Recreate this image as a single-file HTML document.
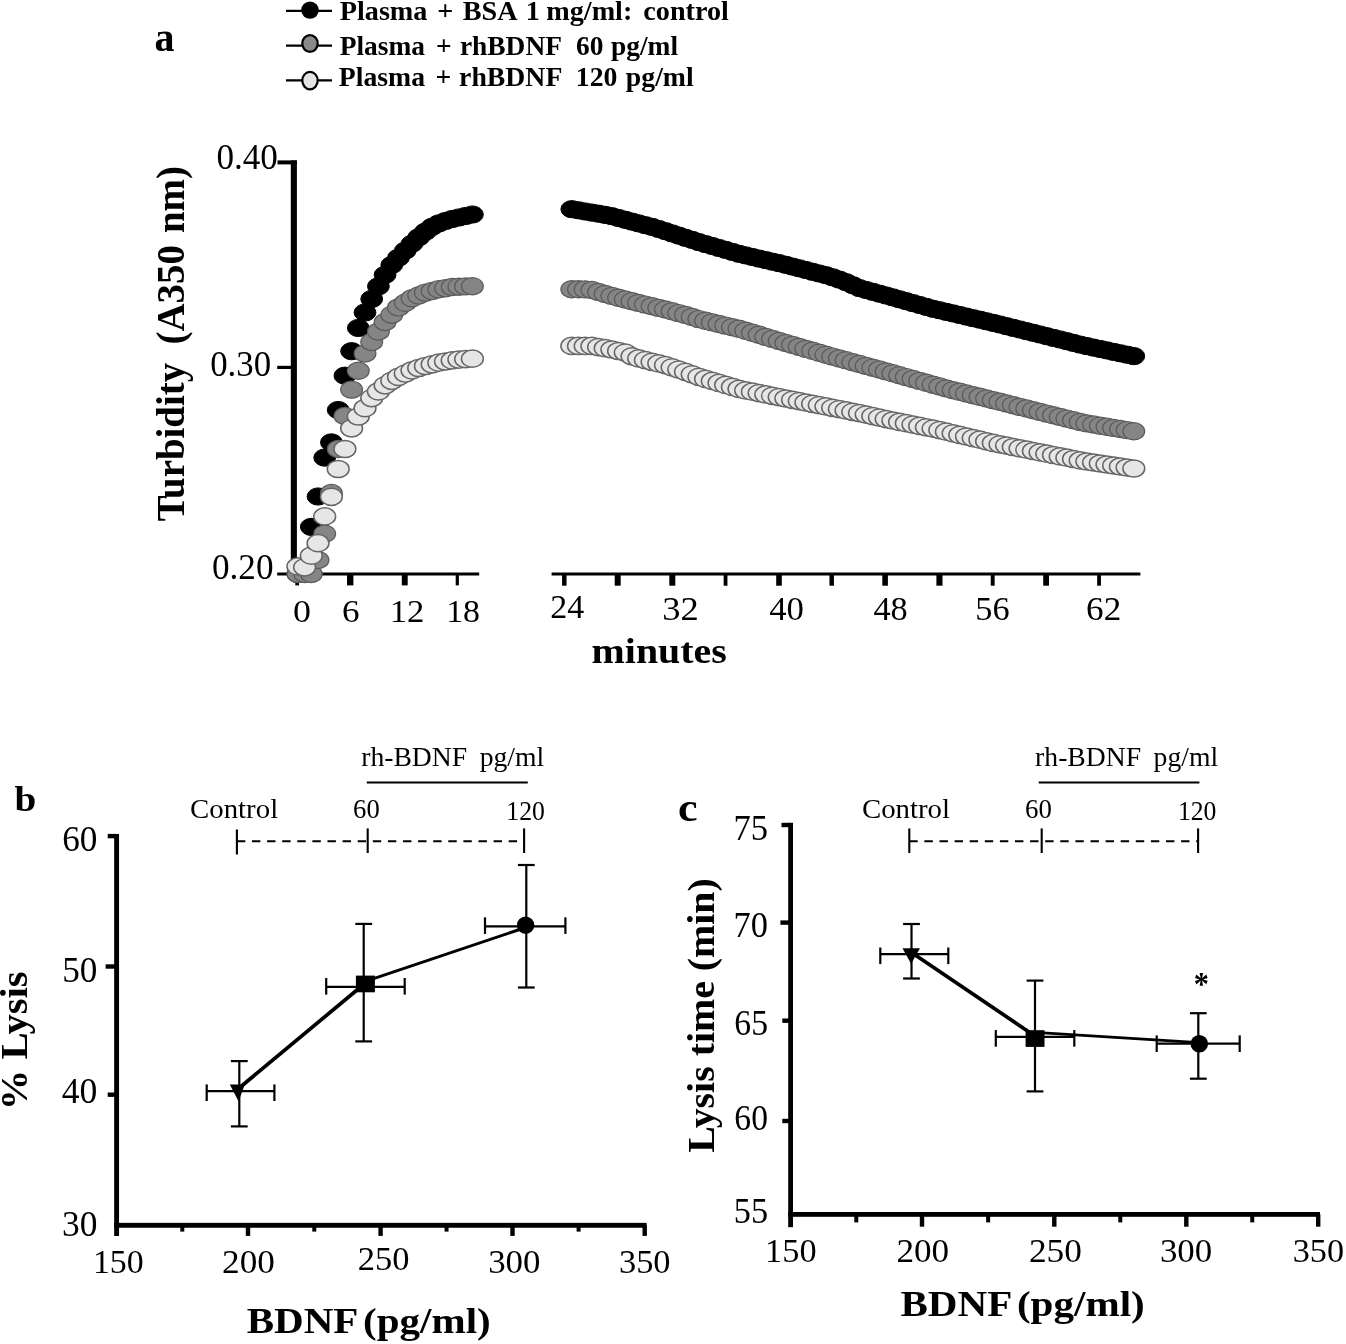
<!DOCTYPE html>
<html><head><meta charset="utf-8"><title>Figure</title>
<style>
html,body{margin:0;padding:0;background:#fff;}
svg{display:block;will-change:transform;filter:grayscale(1);font-family:'Liberation Serif',serif;}
svg text{fill:#000;}
</style></head><body>
<svg width="1346" height="1344" viewBox="0 0 1346 1344" font-family="'Liberation Serif', serif">
<rect width="1346" height="1344" fill="#fff"/>
<line x1="286.00" y1="10.95" x2="332.00" y2="10.95" stroke="#000" stroke-width="2.2" />
<ellipse cx="310" cy="10.1" rx="8.8" ry="8.6" fill="#000" stroke="#000" stroke-width="0"/>
<line x1="286.00" y1="45.60" x2="332.00" y2="45.60" stroke="#000" stroke-width="2.2" />
<ellipse cx="310" cy="43.5" rx="7.7" ry="8.4" fill="#8a8a8a" stroke="#000" stroke-width="2.2"/>
<line x1="286.00" y1="80.40" x2="332.00" y2="80.40" stroke="#000" stroke-width="2.2" />
<ellipse cx="310" cy="80.6" rx="7.7" ry="8.8" fill="#e4e4e4" stroke="#000" stroke-width="2.2"/>
<text transform="translate(0 19.80) scale(1.0673 1)" font-size="26.41" font-weight="bold" xml:space="preserve"><tspan x="318.35">Plasma </tspan><tspan x="409.69">+ </tspan><tspan x="433.52">BSA </tspan><tspan x="492.71">1 </tspan><tspan x="511.83">mg/ml: </tspan><tspan x="602.77">control</tspan></text>
<text transform="translate(0 55.40) scale(0.9930 1)" font-size="27.63" font-weight="bold" xml:space="preserve"><tspan x="342.11">Plasma </tspan><tspan x="439.07">+ </tspan><tspan x="463.12">rhBDNF </tspan><tspan x="580.05">60 </tspan><tspan x="615.36">pg/ml</tspan></text>
<text transform="translate(0 85.60) scale(0.9878 1)" font-size="28.09" font-weight="bold" xml:space="preserve"><tspan x="342.99">Plasma </tspan><tspan x="440.81">+ </tspan><tspan x="464.78">rhBDNF </tspan><tspan x="582.94">120 </tspan><tspan x="633.61">pg/ml</tspan></text>
<text transform="translate(154.40 50.88) scale(0.9600 1)" font-size="41.67" font-weight="bold">a</text>
<rect x="290.80" y="160.40" width="6.10" height="415.20" fill="#000"/>
<rect x="277.50" y="160.40" width="19.40" height="4.00" fill="#000"/>
<rect x="277.20" y="365.80" width="14.80" height="3.20" fill="#000"/>
<rect x="277.20" y="572.50" width="202.00" height="3.00" fill="#000"/>
<rect x="295.30" y="574.00" width="3.70" height="11.40" fill="#000"/>
<rect x="347.00" y="574.00" width="6.40" height="11.40" fill="#000"/>
<rect x="401.80" y="574.00" width="5.90" height="11.40" fill="#000"/>
<rect x="455.70" y="574.00" width="3.20" height="11.40" fill="#000"/>
<rect x="551.60" y="572.50" width="588.80" height="3.00" fill="#000"/>
<rect x="562.05" y="574.00" width="4.50" height="11.70" fill="#000"/>
<rect x="614.70" y="574.00" width="6.00" height="11.70" fill="#000"/>
<rect x="669.30" y="574.00" width="6.00" height="11.70" fill="#000"/>
<rect x="723.65" y="574.00" width="3.80" height="11.70" fill="#000"/>
<rect x="776.20" y="574.00" width="5.60" height="11.70" fill="#000"/>
<rect x="829.45" y="574.00" width="4.50" height="11.70" fill="#000"/>
<rect x="882.30" y="574.00" width="5.60" height="11.70" fill="#000"/>
<rect x="936.40" y="574.00" width="6.10" height="11.70" fill="#000"/>
<rect x="990.75" y="574.00" width="3.90" height="11.70" fill="#000"/>
<rect x="1043.20" y="574.00" width="5.80" height="11.70" fill="#000"/>
<rect x="1097.15" y="574.00" width="3.80" height="11.70" fill="#000"/>
<text transform="translate(216.38 168.50) scale(0.9687 1)" font-size="36.24" xml:space="preserve">0.40</text>
<text transform="translate(210.19 375.50) scale(0.9644 1)" font-size="36.09" xml:space="preserve">0.30</text>
<text transform="translate(211.98 579.40) scale(0.9784 1)" font-size="35.94" xml:space="preserve">0.20</text>
<text transform="translate(292.95 621.60) scale(1.1239 1)" font-size="32.03" xml:space="preserve">0</text>
<text transform="translate(342.11 621.60) scale(1.0913 1)" font-size="32.15" xml:space="preserve">6</text>
<text transform="translate(389.77 621.60) scale(1.0773 1)" font-size="32.15" xml:space="preserve">12</text>
<text transform="translate(446.13 621.60) scale(1.0597 1)" font-size="32.03" xml:space="preserve">18</text>
<text transform="translate(550.37 618.10) scale(1.0173 1)" font-size="33.36" xml:space="preserve">24</text>
<text transform="translate(662.26 619.90) scale(1.0527 1)" font-size="34.72" xml:space="preserve">32</text>
<text transform="translate(769.20 619.90) scale(1.0150 1)" font-size="34.29" xml:space="preserve">40</text>
<text transform="translate(873.41 619.90) scale(1.0027 1)" font-size="34.29" xml:space="preserve">48</text>
<text transform="translate(975.33 619.90) scale(0.9967 1)" font-size="34.42" xml:space="preserve">56</text>
<text transform="translate(1086.11 619.90) scale(1.0206 1)" font-size="34.42" xml:space="preserve">62</text>
<text transform="translate(591.60 663.30) scale(1.0897 1)" font-size="36.60" font-weight="bold" xml:space="preserve">minutes</text>
<text transform="translate(183.90 0) rotate(-90) scale(0.9917 1)" font-size="39.24" font-weight="bold" xml:space="preserve"><tspan x="-525.73">Turbidity </tspan><tspan x="-347.43">(A350 </tspan><tspan x="-235.02">nm)</tspan></text>
<g fill="#000" stroke="#000" stroke-width="1">
<ellipse cx="297.9" cy="574.0" rx="10.9" ry="8.6"/>
<ellipse cx="304.6" cy="572.0" rx="10.9" ry="8.6"/>
<ellipse cx="311.3" cy="526.9" rx="10.9" ry="8.6"/>
<ellipse cx="318.0" cy="496.5" rx="10.9" ry="8.6"/>
<ellipse cx="324.7" cy="457.6" rx="10.9" ry="8.6"/>
<ellipse cx="331.4" cy="442.4" rx="10.9" ry="8.6"/>
<ellipse cx="338.2" cy="410.0" rx="10.9" ry="8.6"/>
<ellipse cx="344.9" cy="375.7" rx="10.9" ry="8.6"/>
<ellipse cx="351.6" cy="351.2" rx="10.9" ry="8.6"/>
<ellipse cx="358.3" cy="328.0" rx="10.9" ry="8.6"/>
<ellipse cx="365.0" cy="312.5" rx="10.9" ry="8.6"/>
<ellipse cx="371.7" cy="299.0" rx="10.9" ry="8.6"/>
<ellipse cx="378.4" cy="286.3" rx="10.9" ry="8.6"/>
<ellipse cx="385.1" cy="274.8" rx="10.9" ry="8.6"/>
<ellipse cx="391.8" cy="265.0" rx="10.9" ry="8.6"/>
<ellipse cx="398.5" cy="257.7" rx="10.9" ry="8.6"/>
<ellipse cx="405.3" cy="250.6" rx="10.9" ry="8.6"/>
<ellipse cx="412.0" cy="243.7" rx="10.9" ry="8.6"/>
<ellipse cx="418.7" cy="237.3" rx="10.9" ry="8.6"/>
<ellipse cx="425.4" cy="231.7" rx="10.9" ry="8.6"/>
<ellipse cx="432.1" cy="226.8" rx="10.9" ry="8.6"/>
<ellipse cx="438.8" cy="223.4" rx="10.9" ry="8.6"/>
<ellipse cx="445.5" cy="221.0" rx="10.9" ry="8.6"/>
<ellipse cx="452.2" cy="219.0" rx="10.9" ry="8.6"/>
<ellipse cx="458.9" cy="217.5" rx="10.9" ry="8.6"/>
<ellipse cx="465.6" cy="216.0" rx="10.9" ry="8.6"/>
<ellipse cx="472.4" cy="214.5" rx="10.9" ry="8.6"/>
</g>
<g fill="#000" stroke="#000" stroke-width="1">
<ellipse cx="571.8" cy="209.2" rx="10.9" ry="8.6"/>
<ellipse cx="578.5" cy="210.3" rx="10.9" ry="8.6"/>
<ellipse cx="585.2" cy="211.5" rx="10.9" ry="8.6"/>
<ellipse cx="591.9" cy="212.6" rx="10.9" ry="8.6"/>
<ellipse cx="598.6" cy="213.7" rx="10.9" ry="8.6"/>
<ellipse cx="605.2" cy="214.9" rx="10.9" ry="8.6"/>
<ellipse cx="611.9" cy="216.2" rx="10.9" ry="8.6"/>
<ellipse cx="618.6" cy="218.0" rx="10.9" ry="8.6"/>
<ellipse cx="625.3" cy="219.8" rx="10.9" ry="8.6"/>
<ellipse cx="632.0" cy="221.6" rx="10.9" ry="8.6"/>
<ellipse cx="638.7" cy="223.4" rx="10.9" ry="8.6"/>
<ellipse cx="645.4" cy="225.2" rx="10.9" ry="8.6"/>
<ellipse cx="652.1" cy="226.9" rx="10.9" ry="8.6"/>
<ellipse cx="658.8" cy="229.0" rx="10.9" ry="8.6"/>
<ellipse cx="665.5" cy="231.2" rx="10.9" ry="8.6"/>
<ellipse cx="672.1" cy="233.4" rx="10.9" ry="8.6"/>
<ellipse cx="678.8" cy="235.6" rx="10.9" ry="8.6"/>
<ellipse cx="685.5" cy="237.8" rx="10.9" ry="8.6"/>
<ellipse cx="692.2" cy="239.9" rx="10.9" ry="8.6"/>
<ellipse cx="698.9" cy="242.1" rx="10.9" ry="8.6"/>
<ellipse cx="705.6" cy="244.1" rx="10.9" ry="8.6"/>
<ellipse cx="712.3" cy="246.0" rx="10.9" ry="8.6"/>
<ellipse cx="719.0" cy="248.0" rx="10.9" ry="8.6"/>
<ellipse cx="725.7" cy="249.9" rx="10.9" ry="8.6"/>
<ellipse cx="732.4" cy="251.9" rx="10.9" ry="8.6"/>
<ellipse cx="739.0" cy="253.8" rx="10.9" ry="8.6"/>
<ellipse cx="745.7" cy="255.4" rx="10.9" ry="8.6"/>
<ellipse cx="752.4" cy="257.0" rx="10.9" ry="8.6"/>
<ellipse cx="759.1" cy="258.6" rx="10.9" ry="8.6"/>
<ellipse cx="765.8" cy="260.1" rx="10.9" ry="8.6"/>
<ellipse cx="772.5" cy="261.7" rx="10.9" ry="8.6"/>
<ellipse cx="779.2" cy="263.2" rx="10.9" ry="8.6"/>
<ellipse cx="785.9" cy="264.8" rx="10.9" ry="8.6"/>
<ellipse cx="792.6" cy="266.6" rx="10.9" ry="8.6"/>
<ellipse cx="799.3" cy="268.3" rx="10.9" ry="8.6"/>
<ellipse cx="805.9" cy="270.0" rx="10.9" ry="8.6"/>
<ellipse cx="812.6" cy="271.8" rx="10.9" ry="8.6"/>
<ellipse cx="819.3" cy="273.5" rx="10.9" ry="8.6"/>
<ellipse cx="826.0" cy="275.2" rx="10.9" ry="8.6"/>
<ellipse cx="832.7" cy="277.3" rx="10.9" ry="8.6"/>
<ellipse cx="839.4" cy="279.6" rx="10.9" ry="8.6"/>
<ellipse cx="846.1" cy="282.2" rx="10.9" ry="8.6"/>
<ellipse cx="852.8" cy="285.2" rx="10.9" ry="8.6"/>
<ellipse cx="859.5" cy="288.1" rx="10.9" ry="8.6"/>
<ellipse cx="866.2" cy="290.0" rx="10.9" ry="8.6"/>
<ellipse cx="872.8" cy="291.8" rx="10.9" ry="8.6"/>
<ellipse cx="879.5" cy="293.7" rx="10.9" ry="8.6"/>
<ellipse cx="886.2" cy="295.5" rx="10.9" ry="8.6"/>
<ellipse cx="892.9" cy="297.4" rx="10.9" ry="8.6"/>
<ellipse cx="899.6" cy="299.3" rx="10.9" ry="8.6"/>
<ellipse cx="906.3" cy="301.2" rx="10.9" ry="8.6"/>
<ellipse cx="913.0" cy="303.1" rx="10.9" ry="8.6"/>
<ellipse cx="919.7" cy="305.0" rx="10.9" ry="8.6"/>
<ellipse cx="926.4" cy="306.9" rx="10.9" ry="8.6"/>
<ellipse cx="933.1" cy="308.8" rx="10.9" ry="8.6"/>
<ellipse cx="939.8" cy="310.3" rx="10.9" ry="8.6"/>
<ellipse cx="946.4" cy="311.9" rx="10.9" ry="8.6"/>
<ellipse cx="953.1" cy="313.4" rx="10.9" ry="8.6"/>
<ellipse cx="959.8" cy="315.0" rx="10.9" ry="8.6"/>
<ellipse cx="966.5" cy="316.6" rx="10.9" ry="8.6"/>
<ellipse cx="973.2" cy="318.2" rx="10.9" ry="8.6"/>
<ellipse cx="979.9" cy="319.7" rx="10.9" ry="8.6"/>
<ellipse cx="986.6" cy="321.3" rx="10.9" ry="8.6"/>
<ellipse cx="993.3" cy="322.9" rx="10.9" ry="8.6"/>
<ellipse cx="1000.0" cy="324.5" rx="10.9" ry="8.6"/>
<ellipse cx="1006.6" cy="326.2" rx="10.9" ry="8.6"/>
<ellipse cx="1013.3" cy="327.9" rx="10.9" ry="8.6"/>
<ellipse cx="1020.0" cy="329.5" rx="10.9" ry="8.6"/>
<ellipse cx="1026.7" cy="331.2" rx="10.9" ry="8.6"/>
<ellipse cx="1033.4" cy="332.8" rx="10.9" ry="8.6"/>
<ellipse cx="1040.1" cy="334.5" rx="10.9" ry="8.6"/>
<ellipse cx="1046.8" cy="336.2" rx="10.9" ry="8.6"/>
<ellipse cx="1053.5" cy="337.9" rx="10.9" ry="8.6"/>
<ellipse cx="1060.2" cy="339.5" rx="10.9" ry="8.6"/>
<ellipse cx="1066.9" cy="341.2" rx="10.9" ry="8.6"/>
<ellipse cx="1073.5" cy="342.9" rx="10.9" ry="8.6"/>
<ellipse cx="1080.2" cy="344.6" rx="10.9" ry="8.6"/>
<ellipse cx="1086.9" cy="346.1" rx="10.9" ry="8.6"/>
<ellipse cx="1093.6" cy="347.6" rx="10.9" ry="8.6"/>
<ellipse cx="1100.3" cy="349.0" rx="10.9" ry="8.6"/>
<ellipse cx="1107.0" cy="350.4" rx="10.9" ry="8.6"/>
<ellipse cx="1113.7" cy="351.9" rx="10.9" ry="8.6"/>
<ellipse cx="1120.4" cy="353.3" rx="10.9" ry="8.6"/>
<ellipse cx="1127.1" cy="354.7" rx="10.9" ry="8.6"/>
<ellipse cx="1133.8" cy="356.1" rx="10.9" ry="8.6"/>
</g>
<g fill="#858585" stroke="#5a5a5a" stroke-width="1.2">
<ellipse cx="297.9" cy="574.0" rx="10.9" ry="8.6"/>
<ellipse cx="304.6" cy="574.0" rx="10.9" ry="8.6"/>
<ellipse cx="311.3" cy="574.0" rx="10.9" ry="8.6"/>
<ellipse cx="318.0" cy="560.0" rx="10.9" ry="8.6"/>
<ellipse cx="324.7" cy="533.7" rx="10.9" ry="8.6"/>
<ellipse cx="331.4" cy="493.0" rx="10.9" ry="8.6"/>
<ellipse cx="338.2" cy="449.0" rx="10.9" ry="8.6"/>
<ellipse cx="344.9" cy="416.0" rx="10.9" ry="8.6"/>
<ellipse cx="351.6" cy="389.6" rx="10.9" ry="8.6"/>
<ellipse cx="358.3" cy="370.8" rx="10.9" ry="8.6"/>
<ellipse cx="365.0" cy="353.5" rx="10.9" ry="8.6"/>
<ellipse cx="371.7" cy="342.0" rx="10.9" ry="8.6"/>
<ellipse cx="378.4" cy="331.5" rx="10.9" ry="8.6"/>
<ellipse cx="385.1" cy="322.0" rx="10.9" ry="8.6"/>
<ellipse cx="391.8" cy="314.7" rx="10.9" ry="8.6"/>
<ellipse cx="398.5" cy="307.4" rx="10.9" ry="8.6"/>
<ellipse cx="405.3" cy="302.8" rx="10.9" ry="8.6"/>
<ellipse cx="412.0" cy="298.3" rx="10.9" ry="8.6"/>
<ellipse cx="418.7" cy="295.5" rx="10.9" ry="8.6"/>
<ellipse cx="425.4" cy="292.6" rx="10.9" ry="8.6"/>
<ellipse cx="432.1" cy="291.0" rx="10.9" ry="8.6"/>
<ellipse cx="438.8" cy="289.3" rx="10.9" ry="8.6"/>
<ellipse cx="445.5" cy="288.2" rx="10.9" ry="8.6"/>
<ellipse cx="452.2" cy="287.0" rx="10.9" ry="8.6"/>
<ellipse cx="458.9" cy="286.7" rx="10.9" ry="8.6"/>
<ellipse cx="465.6" cy="286.4" rx="10.9" ry="8.6"/>
<ellipse cx="472.4" cy="286.2" rx="10.9" ry="8.6"/>
</g>
<g fill="#858585" stroke="#5a5a5a" stroke-width="1.2">
<ellipse cx="571.8" cy="289.2" rx="10.9" ry="8.6"/>
<ellipse cx="578.5" cy="289.3" rx="10.9" ry="8.6"/>
<ellipse cx="585.2" cy="289.4" rx="10.9" ry="8.6"/>
<ellipse cx="591.9" cy="290.0" rx="10.9" ry="8.6"/>
<ellipse cx="598.6" cy="292.0" rx="10.9" ry="8.6"/>
<ellipse cx="605.2" cy="294.0" rx="10.9" ry="8.6"/>
<ellipse cx="611.9" cy="295.9" rx="10.9" ry="8.6"/>
<ellipse cx="618.6" cy="297.8" rx="10.9" ry="8.6"/>
<ellipse cx="625.3" cy="299.5" rx="10.9" ry="8.6"/>
<ellipse cx="632.0" cy="301.2" rx="10.9" ry="8.6"/>
<ellipse cx="638.7" cy="302.9" rx="10.9" ry="8.6"/>
<ellipse cx="645.4" cy="304.6" rx="10.9" ry="8.6"/>
<ellipse cx="652.1" cy="306.2" rx="10.9" ry="8.6"/>
<ellipse cx="658.8" cy="307.9" rx="10.9" ry="8.6"/>
<ellipse cx="665.5" cy="309.5" rx="10.9" ry="8.6"/>
<ellipse cx="672.1" cy="311.3" rx="10.9" ry="8.6"/>
<ellipse cx="678.8" cy="313.1" rx="10.9" ry="8.6"/>
<ellipse cx="685.5" cy="314.9" rx="10.9" ry="8.6"/>
<ellipse cx="692.2" cy="316.9" rx="10.9" ry="8.6"/>
<ellipse cx="698.9" cy="319.1" rx="10.9" ry="8.6"/>
<ellipse cx="705.6" cy="320.8" rx="10.9" ry="8.6"/>
<ellipse cx="712.3" cy="322.4" rx="10.9" ry="8.6"/>
<ellipse cx="719.0" cy="324.0" rx="10.9" ry="8.6"/>
<ellipse cx="725.7" cy="325.6" rx="10.9" ry="8.6"/>
<ellipse cx="732.4" cy="327.2" rx="10.9" ry="8.6"/>
<ellipse cx="739.0" cy="328.8" rx="10.9" ry="8.6"/>
<ellipse cx="745.7" cy="330.8" rx="10.9" ry="8.6"/>
<ellipse cx="752.4" cy="332.8" rx="10.9" ry="8.6"/>
<ellipse cx="759.1" cy="334.8" rx="10.9" ry="8.6"/>
<ellipse cx="765.8" cy="336.9" rx="10.9" ry="8.6"/>
<ellipse cx="772.5" cy="338.9" rx="10.9" ry="8.6"/>
<ellipse cx="779.2" cy="341.0" rx="10.9" ry="8.6"/>
<ellipse cx="785.9" cy="343.0" rx="10.9" ry="8.6"/>
<ellipse cx="792.6" cy="344.9" rx="10.9" ry="8.6"/>
<ellipse cx="799.3" cy="346.9" rx="10.9" ry="8.6"/>
<ellipse cx="805.9" cy="348.9" rx="10.9" ry="8.6"/>
<ellipse cx="812.6" cy="350.8" rx="10.9" ry="8.6"/>
<ellipse cx="819.3" cy="352.8" rx="10.9" ry="8.6"/>
<ellipse cx="826.0" cy="354.7" rx="10.9" ry="8.6"/>
<ellipse cx="832.7" cy="356.6" rx="10.9" ry="8.6"/>
<ellipse cx="839.4" cy="358.5" rx="10.9" ry="8.6"/>
<ellipse cx="846.1" cy="360.3" rx="10.9" ry="8.6"/>
<ellipse cx="852.8" cy="362.2" rx="10.9" ry="8.6"/>
<ellipse cx="859.5" cy="364.0" rx="10.9" ry="8.6"/>
<ellipse cx="866.2" cy="365.9" rx="10.9" ry="8.6"/>
<ellipse cx="872.8" cy="367.7" rx="10.9" ry="8.6"/>
<ellipse cx="879.5" cy="369.5" rx="10.9" ry="8.6"/>
<ellipse cx="886.2" cy="371.4" rx="10.9" ry="8.6"/>
<ellipse cx="892.9" cy="373.3" rx="10.9" ry="8.6"/>
<ellipse cx="899.6" cy="375.2" rx="10.9" ry="8.6"/>
<ellipse cx="906.3" cy="377.1" rx="10.9" ry="8.6"/>
<ellipse cx="913.0" cy="379.0" rx="10.9" ry="8.6"/>
<ellipse cx="919.7" cy="380.9" rx="10.9" ry="8.6"/>
<ellipse cx="926.4" cy="382.8" rx="10.9" ry="8.6"/>
<ellipse cx="933.1" cy="384.7" rx="10.9" ry="8.6"/>
<ellipse cx="939.8" cy="386.5" rx="10.9" ry="8.6"/>
<ellipse cx="946.4" cy="388.4" rx="10.9" ry="8.6"/>
<ellipse cx="953.1" cy="390.2" rx="10.9" ry="8.6"/>
<ellipse cx="959.8" cy="391.8" rx="10.9" ry="8.6"/>
<ellipse cx="966.5" cy="393.5" rx="10.9" ry="8.6"/>
<ellipse cx="973.2" cy="395.2" rx="10.9" ry="8.6"/>
<ellipse cx="979.9" cy="396.8" rx="10.9" ry="8.6"/>
<ellipse cx="986.6" cy="398.5" rx="10.9" ry="8.6"/>
<ellipse cx="993.3" cy="400.2" rx="10.9" ry="8.6"/>
<ellipse cx="1000.0" cy="401.8" rx="10.9" ry="8.6"/>
<ellipse cx="1006.6" cy="403.5" rx="10.9" ry="8.6"/>
<ellipse cx="1013.3" cy="405.2" rx="10.9" ry="8.6"/>
<ellipse cx="1020.0" cy="406.9" rx="10.9" ry="8.6"/>
<ellipse cx="1026.7" cy="408.5" rx="10.9" ry="8.6"/>
<ellipse cx="1033.4" cy="410.2" rx="10.9" ry="8.6"/>
<ellipse cx="1040.1" cy="411.9" rx="10.9" ry="8.6"/>
<ellipse cx="1046.8" cy="413.6" rx="10.9" ry="8.6"/>
<ellipse cx="1053.5" cy="415.3" rx="10.9" ry="8.6"/>
<ellipse cx="1060.2" cy="416.9" rx="10.9" ry="8.6"/>
<ellipse cx="1066.9" cy="418.6" rx="10.9" ry="8.6"/>
<ellipse cx="1073.5" cy="420.3" rx="10.9" ry="8.6"/>
<ellipse cx="1080.2" cy="422.0" rx="10.9" ry="8.6"/>
<ellipse cx="1086.9" cy="423.4" rx="10.9" ry="8.6"/>
<ellipse cx="1093.6" cy="424.5" rx="10.9" ry="8.6"/>
<ellipse cx="1100.3" cy="425.7" rx="10.9" ry="8.6"/>
<ellipse cx="1107.0" cy="426.8" rx="10.9" ry="8.6"/>
<ellipse cx="1113.7" cy="427.9" rx="10.9" ry="8.6"/>
<ellipse cx="1120.4" cy="429.0" rx="10.9" ry="8.6"/>
<ellipse cx="1127.1" cy="430.1" rx="10.9" ry="8.6"/>
<ellipse cx="1133.8" cy="431.3" rx="10.9" ry="8.6"/>
</g>
<g fill="#e6e6e6" stroke="#666" stroke-width="1.5">
<ellipse cx="297.9" cy="566.4" rx="10.9" ry="8.6"/>
<ellipse cx="304.6" cy="567.3" rx="10.9" ry="8.6"/>
<ellipse cx="311.3" cy="555.7" rx="10.9" ry="8.6"/>
<ellipse cx="318.0" cy="543.2" rx="10.9" ry="8.6"/>
<ellipse cx="324.7" cy="516.4" rx="10.9" ry="8.6"/>
<ellipse cx="331.4" cy="496.8" rx="10.9" ry="8.6"/>
<ellipse cx="338.2" cy="469.0" rx="10.9" ry="8.6"/>
<ellipse cx="344.9" cy="449.0" rx="10.9" ry="8.6"/>
<ellipse cx="351.6" cy="428.3" rx="10.9" ry="8.6"/>
<ellipse cx="358.3" cy="416.5" rx="10.9" ry="8.6"/>
<ellipse cx="365.0" cy="408.2" rx="10.9" ry="8.6"/>
<ellipse cx="371.7" cy="398.1" rx="10.9" ry="8.6"/>
<ellipse cx="378.4" cy="391.4" rx="10.9" ry="8.6"/>
<ellipse cx="385.1" cy="385.3" rx="10.9" ry="8.6"/>
<ellipse cx="391.8" cy="380.8" rx="10.9" ry="8.6"/>
<ellipse cx="398.5" cy="376.9" rx="10.9" ry="8.6"/>
<ellipse cx="405.3" cy="373.6" rx="10.9" ry="8.6"/>
<ellipse cx="412.0" cy="370.4" rx="10.9" ry="8.6"/>
<ellipse cx="418.7" cy="368.0" rx="10.9" ry="8.6"/>
<ellipse cx="425.4" cy="366.0" rx="10.9" ry="8.6"/>
<ellipse cx="432.1" cy="364.3" rx="10.9" ry="8.6"/>
<ellipse cx="438.8" cy="362.7" rx="10.9" ry="8.6"/>
<ellipse cx="445.5" cy="361.5" rx="10.9" ry="8.6"/>
<ellipse cx="452.2" cy="360.4" rx="10.9" ry="8.6"/>
<ellipse cx="458.9" cy="359.6" rx="10.9" ry="8.6"/>
<ellipse cx="465.6" cy="359.1" rx="10.9" ry="8.6"/>
<ellipse cx="472.4" cy="358.7" rx="10.9" ry="8.6"/>
</g>
<g fill="#e6e6e6" stroke="#666" stroke-width="1.5">
<ellipse cx="571.8" cy="345.9" rx="10.9" ry="8.6"/>
<ellipse cx="578.5" cy="345.9" rx="10.9" ry="8.6"/>
<ellipse cx="585.2" cy="345.9" rx="10.9" ry="8.6"/>
<ellipse cx="591.9" cy="345.9" rx="10.9" ry="8.6"/>
<ellipse cx="598.6" cy="347.1" rx="10.9" ry="8.6"/>
<ellipse cx="605.2" cy="348.2" rx="10.9" ry="8.6"/>
<ellipse cx="611.9" cy="349.5" rx="10.9" ry="8.6"/>
<ellipse cx="618.6" cy="351.0" rx="10.9" ry="8.6"/>
<ellipse cx="625.3" cy="352.6" rx="10.9" ry="8.6"/>
<ellipse cx="632.0" cy="356.3" rx="10.9" ry="8.6"/>
<ellipse cx="638.7" cy="358.4" rx="10.9" ry="8.6"/>
<ellipse cx="645.4" cy="360.1" rx="10.9" ry="8.6"/>
<ellipse cx="652.1" cy="361.8" rx="10.9" ry="8.6"/>
<ellipse cx="658.8" cy="363.4" rx="10.9" ry="8.6"/>
<ellipse cx="665.5" cy="365.1" rx="10.9" ry="8.6"/>
<ellipse cx="672.1" cy="367.3" rx="10.9" ry="8.6"/>
<ellipse cx="678.8" cy="369.6" rx="10.9" ry="8.6"/>
<ellipse cx="685.5" cy="371.8" rx="10.9" ry="8.6"/>
<ellipse cx="692.2" cy="374.3" rx="10.9" ry="8.6"/>
<ellipse cx="698.9" cy="376.8" rx="10.9" ry="8.6"/>
<ellipse cx="705.6" cy="378.9" rx="10.9" ry="8.6"/>
<ellipse cx="712.3" cy="380.9" rx="10.9" ry="8.6"/>
<ellipse cx="719.0" cy="382.9" rx="10.9" ry="8.6"/>
<ellipse cx="725.7" cy="384.9" rx="10.9" ry="8.6"/>
<ellipse cx="732.4" cy="386.9" rx="10.9" ry="8.6"/>
<ellipse cx="739.0" cy="388.9" rx="10.9" ry="8.6"/>
<ellipse cx="745.7" cy="390.4" rx="10.9" ry="8.6"/>
<ellipse cx="752.4" cy="391.7" rx="10.9" ry="8.6"/>
<ellipse cx="759.1" cy="393.1" rx="10.9" ry="8.6"/>
<ellipse cx="765.8" cy="394.4" rx="10.9" ry="8.6"/>
<ellipse cx="772.5" cy="395.8" rx="10.9" ry="8.6"/>
<ellipse cx="779.2" cy="397.1" rx="10.9" ry="8.6"/>
<ellipse cx="785.9" cy="398.5" rx="10.9" ry="8.6"/>
<ellipse cx="792.6" cy="399.8" rx="10.9" ry="8.6"/>
<ellipse cx="799.3" cy="401.1" rx="10.9" ry="8.6"/>
<ellipse cx="805.9" cy="402.5" rx="10.9" ry="8.6"/>
<ellipse cx="812.6" cy="403.8" rx="10.9" ry="8.6"/>
<ellipse cx="819.3" cy="405.1" rx="10.9" ry="8.6"/>
<ellipse cx="826.0" cy="406.4" rx="10.9" ry="8.6"/>
<ellipse cx="832.7" cy="407.8" rx="10.9" ry="8.6"/>
<ellipse cx="839.4" cy="409.1" rx="10.9" ry="8.6"/>
<ellipse cx="846.1" cy="410.4" rx="10.9" ry="8.6"/>
<ellipse cx="852.8" cy="411.8" rx="10.9" ry="8.6"/>
<ellipse cx="859.5" cy="413.1" rx="10.9" ry="8.6"/>
<ellipse cx="866.2" cy="414.6" rx="10.9" ry="8.6"/>
<ellipse cx="872.8" cy="416.1" rx="10.9" ry="8.6"/>
<ellipse cx="879.5" cy="417.6" rx="10.9" ry="8.6"/>
<ellipse cx="886.2" cy="419.1" rx="10.9" ry="8.6"/>
<ellipse cx="892.9" cy="420.5" rx="10.9" ry="8.6"/>
<ellipse cx="899.6" cy="421.9" rx="10.9" ry="8.6"/>
<ellipse cx="906.3" cy="423.2" rx="10.9" ry="8.6"/>
<ellipse cx="913.0" cy="424.6" rx="10.9" ry="8.6"/>
<ellipse cx="919.7" cy="425.9" rx="10.9" ry="8.6"/>
<ellipse cx="926.4" cy="427.3" rx="10.9" ry="8.6"/>
<ellipse cx="933.1" cy="428.6" rx="10.9" ry="8.6"/>
<ellipse cx="939.8" cy="430.1" rx="10.9" ry="8.6"/>
<ellipse cx="946.4" cy="431.7" rx="10.9" ry="8.6"/>
<ellipse cx="953.1" cy="433.3" rx="10.9" ry="8.6"/>
<ellipse cx="959.8" cy="434.9" rx="10.9" ry="8.6"/>
<ellipse cx="966.5" cy="436.5" rx="10.9" ry="8.6"/>
<ellipse cx="973.2" cy="438.1" rx="10.9" ry="8.6"/>
<ellipse cx="979.9" cy="439.7" rx="10.9" ry="8.6"/>
<ellipse cx="986.6" cy="441.3" rx="10.9" ry="8.6"/>
<ellipse cx="993.3" cy="442.9" rx="10.9" ry="8.6"/>
<ellipse cx="1000.0" cy="444.3" rx="10.9" ry="8.6"/>
<ellipse cx="1006.6" cy="445.6" rx="10.9" ry="8.6"/>
<ellipse cx="1013.3" cy="447.0" rx="10.9" ry="8.6"/>
<ellipse cx="1020.0" cy="448.3" rx="10.9" ry="8.6"/>
<ellipse cx="1026.7" cy="449.7" rx="10.9" ry="8.6"/>
<ellipse cx="1033.4" cy="451.0" rx="10.9" ry="8.6"/>
<ellipse cx="1040.1" cy="452.4" rx="10.9" ry="8.6"/>
<ellipse cx="1046.8" cy="453.7" rx="10.9" ry="8.6"/>
<ellipse cx="1053.5" cy="455.0" rx="10.9" ry="8.6"/>
<ellipse cx="1060.2" cy="456.4" rx="10.9" ry="8.6"/>
<ellipse cx="1066.9" cy="457.7" rx="10.9" ry="8.6"/>
<ellipse cx="1073.5" cy="459.0" rx="10.9" ry="8.6"/>
<ellipse cx="1080.2" cy="460.4" rx="10.9" ry="8.6"/>
<ellipse cx="1086.9" cy="461.5" rx="10.9" ry="8.6"/>
<ellipse cx="1093.6" cy="462.5" rx="10.9" ry="8.6"/>
<ellipse cx="1100.3" cy="463.5" rx="10.9" ry="8.6"/>
<ellipse cx="1107.0" cy="464.5" rx="10.9" ry="8.6"/>
<ellipse cx="1113.7" cy="465.5" rx="10.9" ry="8.6"/>
<ellipse cx="1120.4" cy="466.5" rx="10.9" ry="8.6"/>
<ellipse cx="1127.1" cy="467.5" rx="10.9" ry="8.6"/>
<ellipse cx="1133.8" cy="468.5" rx="10.9" ry="8.6"/>
</g>
<rect x="114.15" y="834.00" width="4.90" height="402.00" fill="#000"/>
<rect x="114.15" y="1222.85" width="532.45" height="4.90" fill="#000"/>
<rect x="107.70" y="833.90" width="8.90" height="4.40" fill="#000"/>
<rect x="105.60" y="964.30" width="11.00" height="4.40" fill="#000"/>
<rect x="107.70" y="1092.50" width="8.90" height="4.40" fill="#000"/>
<rect x="180.30" y="1225.30" width="4.00" height="6.30" fill="#000"/>
<rect x="245.80" y="1225.30" width="4.40" height="10.60" fill="#000"/>
<rect x="312.30" y="1225.30" width="4.00" height="6.30" fill="#000"/>
<rect x="378.40" y="1225.30" width="4.40" height="10.60" fill="#000"/>
<rect x="444.55" y="1225.30" width="4.00" height="6.30" fill="#000"/>
<rect x="510.30" y="1225.30" width="4.40" height="10.60" fill="#000"/>
<rect x="576.60" y="1225.30" width="4.00" height="6.30" fill="#000"/>
<rect x="642.50" y="1225.30" width="4.40" height="10.60" fill="#000"/>
<text transform="translate(62.20 851.00) scale(0.9840 1)" font-size="35.79" xml:space="preserve">60</text>
<text transform="translate(62.28 981.60) scale(0.9818 1)" font-size="35.79" xml:space="preserve">50</text>
<text transform="translate(61.79 1103.30) scale(1.0003 1)" font-size="35.64" xml:space="preserve">40</text>
<text transform="translate(62.02 1236.00) scale(0.9894 1)" font-size="35.79" xml:space="preserve">30</text>
<text transform="translate(92.93 1272.50) scale(0.9972 1)" font-size="33.98" xml:space="preserve">150</text>
<text transform="translate(222.12 1272.50) scale(1.0358 1)" font-size="33.98" xml:space="preserve">200</text>
<text transform="translate(357.75 1270.40) scale(1.0062 1)" font-size="34.29" xml:space="preserve">250</text>
<text transform="translate(488.14 1273.10) scale(1.0138 1)" font-size="34.44" xml:space="preserve">300</text>
<text transform="translate(618.97 1273.10) scale(0.9994 1)" font-size="34.44" xml:space="preserve">350</text>
<text transform="translate(14.41 811.34) scale(1.0754 1)" font-size="36.45" font-weight="bold">b</text>
<text transform="translate(190.05 818.30) scale(1.0282 1)" font-size="28.06" xml:space="preserve">Control</text>
<text transform="translate(353.07 817.50) scale(0.9730 1)" font-size="27.37" xml:space="preserve">60</text>
<text transform="translate(506.35 820.20) scale(0.9459 1)" font-size="27.22" xml:space="preserve">120</text>
<text transform="translate(0 765.90) scale(0.9953 1)" font-size="27.79" xml:space="preserve"><tspan x="362.89">rh-BDNF </tspan><tspan x="481.96">pg/ml</tspan></text>
<line x1="366.80" y1="782.60" x2="527.80" y2="782.60" stroke="#000" stroke-width="2.0" />
<line x1="236.90" y1="841.30" x2="524.10" y2="841.30" stroke="#000" stroke-width="1.9" stroke-dasharray="8.4 6.7"/>
<line x1="236.90" y1="829.50" x2="236.90" y2="854.50" stroke="#000" stroke-width="2.1" />
<line x1="367.70" y1="828.40" x2="367.70" y2="853.00" stroke="#000" stroke-width="2.1" />
<line x1="524.10" y1="828.40" x2="524.10" y2="853.00" stroke="#000" stroke-width="2.1" />
<line x1="239.20" y1="1088.00" x2="365.40" y2="983.00" stroke="#000" stroke-width="3.7" />
<line x1="365.40" y1="981.40" x2="525.60" y2="927.50" stroke="#000" stroke-width="3.0" />
<line x1="239.30" y1="1061.10" x2="239.30" y2="1126.40" stroke="#000" stroke-width="2.2" />
<line x1="230.90" y1="1061.10" x2="247.70" y2="1061.10" stroke="#000" stroke-width="2.2" />
<line x1="230.90" y1="1126.40" x2="247.70" y2="1126.40" stroke="#000" stroke-width="2.2" />
<line x1="206.70" y1="1091.20" x2="274.40" y2="1091.20" stroke="#000" stroke-width="2.2" />
<line x1="206.70" y1="1084.40" x2="206.70" y2="1101.00" stroke="#000" stroke-width="2.2" />
<line x1="274.40" y1="1084.40" x2="274.40" y2="1101.00" stroke="#000" stroke-width="2.2" />
<line x1="363.70" y1="923.90" x2="363.70" y2="1041.40" stroke="#000" stroke-width="2.2" />
<line x1="355.30" y1="923.90" x2="372.10" y2="923.90" stroke="#000" stroke-width="2.2" />
<line x1="355.30" y1="1041.40" x2="372.10" y2="1041.40" stroke="#000" stroke-width="2.2" />
<line x1="326.20" y1="986.80" x2="404.70" y2="986.80" stroke="#000" stroke-width="2.2" />
<line x1="326.20" y1="978.00" x2="326.20" y2="994.60" stroke="#000" stroke-width="2.2" />
<line x1="404.70" y1="978.00" x2="404.70" y2="994.60" stroke="#000" stroke-width="2.2" />
<line x1="526.30" y1="865.00" x2="526.30" y2="987.50" stroke="#000" stroke-width="2.2" />
<line x1="517.90" y1="865.00" x2="534.70" y2="865.00" stroke="#000" stroke-width="2.2" />
<line x1="517.90" y1="987.50" x2="534.70" y2="987.50" stroke="#000" stroke-width="2.2" />
<line x1="485.00" y1="926.30" x2="565.40" y2="926.30" stroke="#000" stroke-width="2.2" />
<line x1="485.00" y1="917.30" x2="485.00" y2="933.90" stroke="#000" stroke-width="2.2" />
<line x1="565.40" y1="917.30" x2="565.40" y2="933.90" stroke="#000" stroke-width="2.2" />
<polygon points="229.8,1084.5 244.8,1084.5 238.5,1101.3" fill="#000"/>
<rect x="355.90" y="975.60" width="19.00" height="16.70" fill="#000"/>
<circle cx="525.6" cy="925.2" r="8.7" fill="#000"/>
<text transform="translate(27.10 1110.27) rotate(-90) scale(1.0487 1)" font-size="38.78" font-weight="bold" xml:space="preserve">% Lysis</text>
<text transform="translate(0 1332.50) scale(1.1299 1)" font-size="36.34" font-weight="bold" xml:space="preserve"><tspan x="218.32">BDNF </tspan><tspan x="321.31">(pg/ml)</tspan></text>
<rect x="788.20" y="822.80" width="4.80" height="404.40" fill="#000"/>
<rect x="788.20" y="1212.00" width="531.80" height="4.80" fill="#000"/>
<rect x="781.50" y="822.80" width="9.10" height="4.40" fill="#000"/>
<rect x="780.40" y="920.40" width="10.20" height="4.40" fill="#000"/>
<rect x="782.30" y="1018.50" width="8.30" height="4.40" fill="#000"/>
<rect x="782.30" y="1118.80" width="8.30" height="4.40" fill="#000"/>
<rect x="854.30" y="1214.40" width="4.00" height="8.00" fill="#000"/>
<rect x="919.80" y="1214.40" width="4.40" height="12.30" fill="#000"/>
<rect x="986.15" y="1214.40" width="4.00" height="8.00" fill="#000"/>
<rect x="1052.10" y="1214.40" width="4.40" height="12.30" fill="#000"/>
<rect x="1118.30" y="1214.40" width="4.00" height="8.00" fill="#000"/>
<rect x="1184.10" y="1214.40" width="4.40" height="12.30" fill="#000"/>
<rect x="1250.25" y="1214.40" width="4.00" height="8.00" fill="#000"/>
<rect x="1316.00" y="1214.40" width="4.40" height="12.30" fill="#000"/>
<text transform="translate(733.56 840.40) scale(0.9502 1)" font-size="36.34" xml:space="preserve">75</text>
<text transform="translate(733.56 937.10) scale(0.9620 1)" font-size="35.79" xml:space="preserve">70</text>
<text transform="translate(734.37 1034.80) scale(0.9375 1)" font-size="35.92" xml:space="preserve">65</text>
<text transform="translate(734.37 1130.20) scale(0.9385 1)" font-size="35.79" xml:space="preserve">60</text>
<text transform="translate(733.83 1223.00) scale(0.9584 1)" font-size="35.73" xml:space="preserve">55</text>
<text transform="translate(765.10 1262.30) scale(0.9882 1)" font-size="34.74" xml:space="preserve">150</text>
<text transform="translate(896.42 1262.30) scale(1.0134 1)" font-size="34.74" xml:space="preserve">200</text>
<text transform="translate(1028.91 1262.30) scale(1.0175 1)" font-size="34.74" xml:space="preserve">250</text>
<text transform="translate(1159.95 1262.30) scale(1.0030 1)" font-size="34.74" xml:space="preserve">300</text>
<text transform="translate(1292.68 1262.30) scale(0.9847 1)" font-size="34.74" xml:space="preserve">350</text>
<text transform="translate(678.05 820.99) scale(1.0814 1)" font-size="40.83" font-weight="bold">c</text>
<text transform="translate(861.95 818.30) scale(1.0270 1)" font-size="28.06" xml:space="preserve">Control</text>
<text transform="translate(1025.06 817.50) scale(0.9974 1)" font-size="26.92" xml:space="preserve">60</text>
<text transform="translate(1177.95 820.20) scale(0.9432 1)" font-size="27.22" xml:space="preserve">120</text>
<text transform="translate(0 765.90) scale(0.9953 1)" font-size="27.79" xml:space="preserve"><tspan x="1040.00">rh-BDNF </tspan><tspan x="1159.07">pg/ml</tspan></text>
<line x1="1038.70" y1="782.60" x2="1199.40" y2="782.60" stroke="#000" stroke-width="2.0" />
<line x1="909.30" y1="841.30" x2="1198.10" y2="841.30" stroke="#000" stroke-width="1.9" stroke-dasharray="8.4 6.7"/>
<line x1="909.30" y1="828.40" x2="909.30" y2="853.00" stroke="#000" stroke-width="2.1" />
<line x1="1041.70" y1="828.40" x2="1041.70" y2="853.00" stroke="#000" stroke-width="2.1" />
<line x1="1198.10" y1="828.40" x2="1198.10" y2="853.00" stroke="#000" stroke-width="2.1" />
<line x1="911.50" y1="952.50" x2="1035.00" y2="1036.00" stroke="#000" stroke-width="3.7" />
<line x1="1035.00" y1="1032.40" x2="1199.30" y2="1042.60" stroke="#000" stroke-width="2.8" />
<line x1="911.50" y1="924.00" x2="911.50" y2="978.50" stroke="#000" stroke-width="2.2" />
<line x1="903.10" y1="924.00" x2="919.90" y2="924.00" stroke="#000" stroke-width="2.2" />
<line x1="903.10" y1="978.50" x2="919.90" y2="978.50" stroke="#000" stroke-width="2.2" />
<line x1="880.30" y1="954.10" x2="948.30" y2="954.10" stroke="#000" stroke-width="2.2" />
<line x1="880.30" y1="947.50" x2="880.30" y2="964.10" stroke="#000" stroke-width="2.2" />
<line x1="948.30" y1="947.50" x2="948.30" y2="964.10" stroke="#000" stroke-width="2.2" />
<line x1="1035.00" y1="980.60" x2="1035.00" y2="1091.40" stroke="#000" stroke-width="2.2" />
<line x1="1026.60" y1="980.60" x2="1043.40" y2="980.60" stroke="#000" stroke-width="2.2" />
<line x1="1026.60" y1="1091.40" x2="1043.40" y2="1091.40" stroke="#000" stroke-width="2.2" />
<line x1="995.80" y1="1036.90" x2="1074.30" y2="1036.90" stroke="#000" stroke-width="2.2" />
<line x1="995.80" y1="1030.10" x2="995.80" y2="1046.70" stroke="#000" stroke-width="2.2" />
<line x1="1074.30" y1="1030.10" x2="1074.30" y2="1046.70" stroke="#000" stroke-width="2.2" />
<line x1="1198.30" y1="1013.20" x2="1198.30" y2="1078.70" stroke="#000" stroke-width="2.2" />
<line x1="1189.90" y1="1013.20" x2="1206.70" y2="1013.20" stroke="#000" stroke-width="2.2" />
<line x1="1189.90" y1="1078.70" x2="1206.70" y2="1078.70" stroke="#000" stroke-width="2.2" />
<line x1="1156.70" y1="1043.70" x2="1239.70" y2="1043.70" stroke="#000" stroke-width="2.2" />
<line x1="1156.70" y1="1035.40" x2="1156.70" y2="1052.00" stroke="#000" stroke-width="2.2" />
<line x1="1239.70" y1="1035.40" x2="1239.70" y2="1052.00" stroke="#000" stroke-width="2.2" />
<polygon points="902.5,948.2 920,948.2 911.1,963.8" fill="#000"/>
<rect x="1025.60" y="1030.20" width="18.90" height="16.70" fill="#000"/>
<circle cx="1199.3" cy="1043.7" r="8.8" fill="#000"/>
<text transform="translate(1193.71 995.33) scale(0.8816 1)" font-size="34.44" font-weight="bold">*</text>
<text transform="translate(713.50 1152.70) rotate(-90) scale(1.0359 1)" font-size="38.47" font-weight="bold" xml:space="preserve">Lysis time (min)</text>
<text transform="translate(0 1316.10) scale(1.1219 1)" font-size="36.64" font-weight="bold" xml:space="preserve"><tspan x="802.59">BDNF </tspan><tspan x="906.44">(pg/ml)</tspan></text>
</svg>
</body></html>
